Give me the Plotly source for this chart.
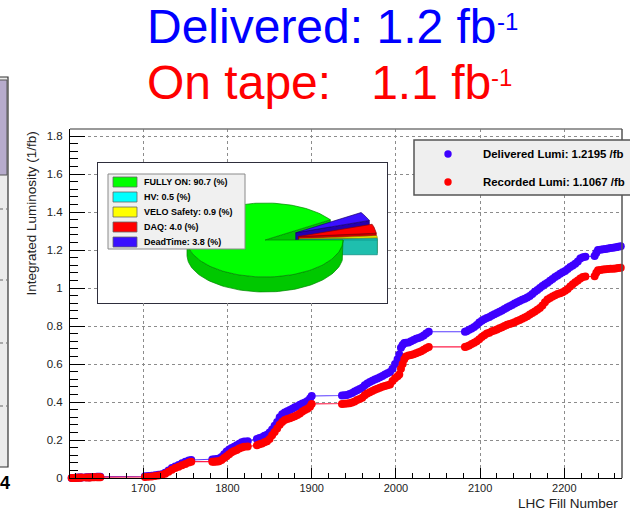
import math
import plotly.graph_objects as go

# ---------------- data ----------------
fill_numbers = [
    1615, 1617, 1619, 1621, 1623, 1625, 1627, 1632, 1635, 1637, 1640, 1642, 1645, 1647, 1649,
    1702, 1706, 1710, 1714, 1718, 1722, 1726, 1730, 1734, 1738, 1742, 1746, 1750, 1754, 1757,
    1782, 1784, 1786, 1788, 1790,
    1793, 1796, 1799, 1802, 1805, 1808, 1811, 1814, 1817, 1820, 1824,
    1835, 1838, 1841, 1844, 1847, 1850, 1853, 1856, 1859, 1862, 1865, 1868, 1871, 1874, 1877,
    1880, 1883, 1886, 1889, 1892, 1895, 1898, 1900,
    1936, 1939, 1942, 1945, 1948, 1951, 1954, 1957, 1960, 1963, 1966, 1969, 1972, 1975, 1978,
    1981, 1984, 1987, 1990, 1993, 1996, 1999, 2002, 2004, 2006, 2008, 2010, 2012,
    2015, 2018, 2021, 2024, 2027, 2030, 2033, 2036, 2039,
    2082, 2084, 2087, 2090, 2093, 2096, 2099, 2102, 2105, 2108, 2111, 2114, 2117, 2120, 2123,
    2126, 2129, 2132, 2135, 2138, 2141, 2144, 2147, 2150, 2153, 2156, 2159, 2162, 2165, 2168,
    2171, 2174, 2177, 2180, 2183, 2186, 2189, 2192, 2195, 2198, 2201, 2204, 2207, 2210, 2213,
    2216, 2219, 2222, 2225,
    2236, 2238, 2240, 2243, 2246, 2249, 2252, 2255, 2258, 2261, 2264, 2267,
]

delivered_lumi = [
    0.0, 0.0005, 0.001, 0.0015, 0.002, 0.0025, 0.003, 0.0035, 0.004, 0.0045, 0.005, 0.0055, 0.006, 0.0065, 0.007,
    0.009, 0.010, 0.012, 0.014, 0.017, 0.020, 0.028, 0.040, 0.052, 0.060, 0.068, 0.077, 0.085, 0.092, 0.095,
    0.097, 0.098, 0.099, 0.100, 0.102,
    0.11, 0.125, 0.14, 0.15, 0.158, 0.165, 0.172, 0.18, 0.188, 0.192, 0.194,
    0.205, 0.21, 0.215, 0.222, 0.228, 0.24, 0.255, 0.275, 0.295, 0.32, 0.335, 0.345, 0.352, 0.358, 0.365,
    0.372, 0.378, 0.385, 0.392, 0.398, 0.405, 0.418, 0.432,
    0.434, 0.436, 0.437, 0.442, 0.447, 0.455, 0.462, 0.468, 0.475, 0.488, 0.498, 0.505, 0.512, 0.518, 0.524,
    0.53, 0.537, 0.545, 0.552, 0.558, 0.575, 0.6, 0.625, 0.65, 0.685, 0.70, 0.71, 0.712,
    0.713, 0.72, 0.727, 0.733, 0.737, 0.742, 0.75, 0.76, 0.77,
    0.77, 0.772, 0.78, 0.787, 0.795, 0.805, 0.818, 0.828, 0.835, 0.842, 0.848, 0.855, 0.862, 0.868, 0.875,
    0.882, 0.89, 0.897, 0.904, 0.91, 0.918, 0.925, 0.932, 0.938, 0.944, 0.95, 0.958, 0.968, 0.98, 0.99,
    1.0, 1.01, 1.02, 1.028, 1.038, 1.048, 1.058, 1.066, 1.075, 1.083, 1.09, 1.1, 1.11, 1.118, 1.128,
    1.14, 1.155, 1.162, 1.165,
    1.168, 1.185, 1.2, 1.202, 1.204, 1.206, 1.208, 1.21, 1.212, 1.214, 1.217, 1.2195,
]

recorded_lumi = [
    0.0, 0.0003, 0.0006, 0.001, 0.0013, 0.0016, 0.002, 0.0023, 0.0026, 0.003, 0.0033, 0.0036, 0.004, 0.0043, 0.0046,
    0.005, 0.006, 0.008, 0.010, 0.013, 0.016, 0.022, 0.033, 0.044, 0.052, 0.059, 0.067, 0.074, 0.082, 0.086,
    0.086, 0.086, 0.087, 0.087, 0.088,
    0.095, 0.105, 0.115, 0.125, 0.135, 0.142, 0.148, 0.155, 0.16, 0.164, 0.166,
    0.172, 0.178, 0.182, 0.188, 0.193, 0.205, 0.225, 0.242, 0.26, 0.28, 0.295, 0.305, 0.31, 0.315, 0.32,
    0.325, 0.332, 0.34, 0.35, 0.358, 0.365, 0.375, 0.39,
    0.39, 0.391, 0.392, 0.394, 0.397, 0.403, 0.41, 0.416, 0.423, 0.435, 0.445, 0.452, 0.458, 0.464, 0.47,
    0.475, 0.48, 0.484, 0.488, 0.492, 0.51, 0.525, 0.535, 0.545, 0.575, 0.6, 0.625, 0.64,
    0.645, 0.648, 0.652, 0.657, 0.662, 0.667, 0.675, 0.683, 0.69,
    0.69, 0.692, 0.698, 0.705, 0.712, 0.72, 0.73, 0.742, 0.752, 0.76, 0.765, 0.772, 0.777, 0.782, 0.788,
    0.793, 0.8, 0.806, 0.81, 0.815, 0.82, 0.826, 0.832, 0.838, 0.845, 0.852, 0.86, 0.868, 0.876, 0.885,
    0.895, 0.908, 0.925, 0.94, 0.948, 0.955, 0.962, 0.968, 0.973, 0.978, 0.985, 0.995, 1.008, 1.02, 1.03,
    1.04, 1.05, 1.058, 1.06,
    1.062, 1.08, 1.093, 1.095, 1.097, 1.099, 1.1, 1.101, 1.102, 1.103, 1.105, 1.1067,
]

pie_labels = ["FULLY ON", "HV", "VELO Safety", "DAQ", "DeadTime"]
pie_values = [90.7, 0.5, 0.9, 4.0, 3.8]

x_tick_values = [1700, 1800, 1900, 2000, 2100, 2200]

# ---------------- styles / geometry ----------------
W, H = 630, 510
ML, MR, MT, MB = 70, 8, 129, 32
PW = W - ML - MR
PH = H - MT - MB
FONT = "Liberation Sans, Arial, Helvetica, sans-serif"

pie_top_colors = ["#00ff00", "#00ffff", "#ffff00", "#ff0000", "#3a10ff"]
pie_side_colors = ["#00c800", "#1fbfae", "#c8c800", "#c80000", "#2400b0"]
pie_edge_colors = ["#008800", "#0a8a80", "#8a8a00", "#8a0000", "#180070"]
pie_explode = [0.0, 0.44, 0.44, 0.44, 0.44]

BLUE_M, BLUE_L = "#3d00ff", "#5a3cff"
RED_M, RED_L = "#ff0000", "#ff1f4a"


def px(xp):
    return (xp - ML) / PW


def py(yp):
    return (H - MB - yp) / PH


fig = go.Figure()

# ---------------- main curves ----------------
fig.add_trace(go.Scatter(
    x=fill_numbers, y=delivered_lumi, mode="lines+markers",
    name="Delivered Lumi", showlegend=False, cliponaxis=False,
    marker=dict(color=BLUE_M, size=8, line=dict(width=0)),
    line=dict(color=BLUE_L, width=1.1),
))
fig.add_trace(go.Scatter(
    x=fill_numbers, y=recorded_lumi, mode="lines+markers",
    name="Recorded Lumi", showlegend=False, cliponaxis=False,
    marker=dict(color=RED_M, size=8, line=dict(width=0)),
    line=dict(color=RED_L, width=1.1),
))

# ---------------- 3D-look pie in inset axes ----------------
PIE_BOX = (98, 387, 163, 303)      # px left, right, top, bottom
PIE_CX, PIE_CY, RX, RY, DEPTH = 265, 240, 78, 37, 15
dep = DEPTH / RY


def arc(ox, oy, a0, a1, shift=0.0):
    n = max(2, int(abs(a1 - a0) / 2) + 2)
    pts = []
    for i in range(n + 1):
        a = math.radians(a0 + (a1 - a0) * i / n)
        pts.append((ox + math.cos(a), oy + math.sin(a) - shift))
    return pts


def poly_trace(pts, fill, edge):
    xs = [p[0] for p in pts] + [pts[0][0]]
    ys = [p[1] for p in pts] + [pts[0][1]]
    return go.Scatter(x=xs, y=ys, mode="lines", fill="toself", fillcolor=fill,
                      line=dict(color=edge, width=0.7), xaxis="x2", yaxis="y2",
                      hoverinfo="skip", showlegend=False)


total = sum(pie_values)
start = 360.0 * (1 - pie_values[0] / total)
slices = []
a = start
for i, v in enumerate(pie_values):
    a0, a1 = a, a + v / total * 360.0
    a = a1
    bis = math.radians((a0 + a1) / 2)
    ox, oy = pie_explode[i] * math.cos(bis), pie_explode[i] * math.sin(bis)
    slices.append((i, a0, a1, ox, oy))


def start_face(s):
    i, a0, a1, ox, oy = s
    r = math.radians(a0)
    ex, ey = ox + math.cos(r), oy + math.sin(r)
    return poly_trace([(ox, oy), (ex, ey), (ex, ey - dep), (ox, oy - dep)],
                      pie_side_colors[i], pie_edge_colors[i])


def rim_side(s):
    i, a0, a1, ox, oy = s
    out = []
    for lo, hi in ((180, 360), (540, 720)):
        b0, b1 = max(a0, lo), min(a1, hi)
        if b1 > b0:
            top = arc(ox, oy, b0, b1)
            bot = arc(ox, oy, b1, b0, shift=dep)
            out.append(poly_trace(top + bot, pie_side_colors[i], pie_edge_colors[i]))
    return out


def top_face(s):
    i, a0, a1, ox, oy = s
    return poly_trace([(ox, oy)] + arc(ox, oy, a0, a1), pie_top_colors[i], pie_edge_colors[i])


green = slices[0]
fig.add_trace(start_face(green))
for s in reversed(slices[1:]):
    fig.add_trace(start_face(s))
    for t in rim_side(s):
        fig.add_trace(t)
    fig.add_trace(top_face(s))
for t in rim_side(green):
    fig.add_trace(t)
fig.add_trace(top_face(green))

# ---------------- layout ----------------
axis_font = dict(family=FONT, size=11, color="#222")
fig.update_layout(
    width=W, height=H,
    margin=dict(l=ML, r=MR, t=MT, b=MB, pad=0),
    paper_bgcolor="white", plot_bgcolor="white",
    showlegend=False,
    xaxis=dict(
        range=[1613, 2268.5], tickvals=x_tick_values, ticks="inside", ticklen=10,
        tickcolor="black", tickwidth=1, showline=True, linecolor="black", linewidth=1,
        showgrid=True, gridcolor="#8c8c8c", griddash="dot", gridwidth=1, zeroline=False,
        minor=dict(dtick=20, tick0=1700, ticks="inside", ticklen=5, tickcolor="black", showgrid=False),
        tickfont=axis_font, ticklabelstandoff=0,
    ),
    yaxis=dict(
        range=[0, 1.837], dtick=0.2, tick0=0, ticks="inside", ticklen=15,
        tickcolor="black", tickwidth=1, showline=True, linecolor="black", linewidth=1,
        showgrid=True, gridcolor="#8c8c8c", griddash="dot", gridwidth=1, zeroline=False,
        minor=dict(dtick=0.04, ticks="inside", ticklen=7.5, tickcolor="black", showgrid=False),
        tickfont=dict(family=FONT, size=11.5, color="#222"), ticklabelstandoff=4,
    ),
    xaxis2=dict(domain=[px(PIE_BOX[0]), px(PIE_BOX[1])], anchor="y2",
                range=[-(PIE_CX - PIE_BOX[0]) / RX, (PIE_BOX[1] - PIE_CX) / RX], visible=False),
    yaxis2=dict(domain=[py(PIE_BOX[3]), py(PIE_BOX[2])], anchor="x2",
                range=[-(PIE_BOX[3] - PIE_CY) / RY, (PIE_CY - PIE_BOX[2]) / RY], visible=False),
)

shapes = []
ann = []

# frame top/right
shapes.append(dict(type="line", xref="paper", yref="paper", x0=0, x1=1, y0=1, y1=1,
                   line=dict(color="#777", width=1.5)))
shapes.append(dict(type="line", xref="paper", yref="paper", x0=1, x1=1, y0=0, y1=1,
                   line=dict(color="#555", width=1.5)))

# inset box (white, covers grid of main plot)
shapes.append(dict(type="rect", xref="x2 domain", yref="y2 domain", x0=0, x1=1, y0=0, y1=1,
                   fillcolor="white", line=dict(color="#2e2e3c", width=2), layer="below"))

# pie legend
shapes.append(dict(type="rect", xref="paper", yref="paper", x0=px(108), x1=px(245), y0=py(249), y1=py(174),
                   fillcolor="#f0f0f0", line=dict(color="#8a8a8a", width=1), layer="above"))
row_y = [182, 197, 212, 227, 242]
for i, lab in enumerate(pie_labels):
    yc = row_y[i]
    shapes.append(dict(type="rect", xref="paper", yref="paper", x0=px(113), x1=px(137),
                       y0=py(yc + 5), y1=py(yc - 5), fillcolor=pie_top_colors[i],
                       line=dict(color="#666", width=0.8), layer="above"))
    ann.append(dict(xref="paper", yref="paper", x=px(142), y=py(yc), xanchor="left", yanchor="middle",
                    text=f"<b>{lab}: {pie_values[i]:.1f} (%)</b>", showarrow=False,
                    font=dict(family=FONT, size=9, color="black")))

# main legend
shapes.append(dict(type="rect", xref="paper", yref="paper", x0=px(414), x1=px(680), y0=py(195), y1=py(140),
                   fillcolor="#efefef", line=dict(color="#555", width=1.5), layer="above"))
for yc, col, lab, val in ((154, BLUE_M, "Delivered Lumi", delivered_lumi[-1]),
                          (182, RED_M, "Recorded Lumi", recorded_lumi[-1])):
    shapes.append(dict(type="circle", xref="paper", yref="paper", x0=px(444.3), x1=px(451.7),
                       y0=py(yc + 3.7), y1=py(yc - 3.7), fillcolor=col, line=dict(width=0), layer="above"))
    ann.append(dict(xref="paper", yref="paper", x=px(481), y=py(yc), xanchor="left", yanchor="middle",
                    text=f"<b>{lab}: {val:.4f} /fb</b>", showarrow=False,
                    font=dict(family=FONT, size=11.4, color="black")))

# neighbouring-panel remnant on the left edge
shapes.append(dict(type="rect", xref="paper", yref="paper", x0=px(-3), x1=px(8), y0=py(467), y1=py(77),
                   fillcolor="#ececec", line=dict(color="#333", width=1.2), layer="above"))
shapes.append(dict(type="rect", xref="paper", yref="paper", x0=px(-3), x1=px(7), y0=py(175), y1=py(80),
                   fillcolor="#b6abcc", line=dict(color="#555", width=1), layer="above"))
for yy in (209, 280, 343, 406):
    shapes.append(dict(type="line", xref="paper", yref="paper", x0=px(0), x1=px(7), y0=py(yy), y1=py(yy),
                       line=dict(color="#666", width=1, dash="dot"), layer="above"))
ann.append(dict(xref="paper", yref="paper", x=px(5), y=py(483), xanchor="center", yanchor="middle",
                text="<b>4</b>", showarrow=False, font=dict(family=FONT, size=18, color="black")))

# titles (superscript drawn as its own smaller text)
total_del = f"{delivered_lumi[-1]:.1f}"
total_rec = f"{recorded_lumi[-1]:.1f}"
ann.append(dict(xref="paper", yref="paper", x=px(145), y=py(27), xanchor="left", yanchor="middle",
                text=f"Delivered: {total_del} fb", showarrow=False,
                font=dict(family=FONT, size=48, color="#0000ff")))
ann.append(dict(xref="paper", yref="paper", x=px(495), y=py(22), xanchor="left", yanchor="middle",
                text="-1", showarrow=False, font=dict(family=FONT, size=24, color="#0000ff")))
ann.append(dict(xref="paper", yref="paper", x=px(145), y=py(82), xanchor="left", yanchor="middle",
                text=f"On tape:\u00a0\u00a0\u00a0{total_rec} fb", showarrow=False,
                font=dict(family=FONT, size=48, color="#ff0000")))
ann.append(dict(xref="paper", yref="paper", x=px(489), y=py(77), xanchor="left", yanchor="middle",
                text="-1", showarrow=False, font=dict(family=FONT, size=24, color="#ff0000")))

# axis titles
ann.append(dict(xref="paper", yref="paper", x=px(620), y=py(503), xanchor="right", yanchor="middle",
                text="LHC Fill Number", showarrow=False, font=dict(family=FONT, size=13.5, color="#222")))
ann.append(dict(xref="paper", yref="paper", x=px(31), y=py(213.5), xanchor="center", yanchor="middle",
                text="Integrated Luminosity (1/fb)", textangle=-90, showarrow=False,
                font=dict(family=FONT, size=13.5, color="#222")))

fig.update_layout(shapes=shapes, annotations=ann)
fig.write_html("out.html")
